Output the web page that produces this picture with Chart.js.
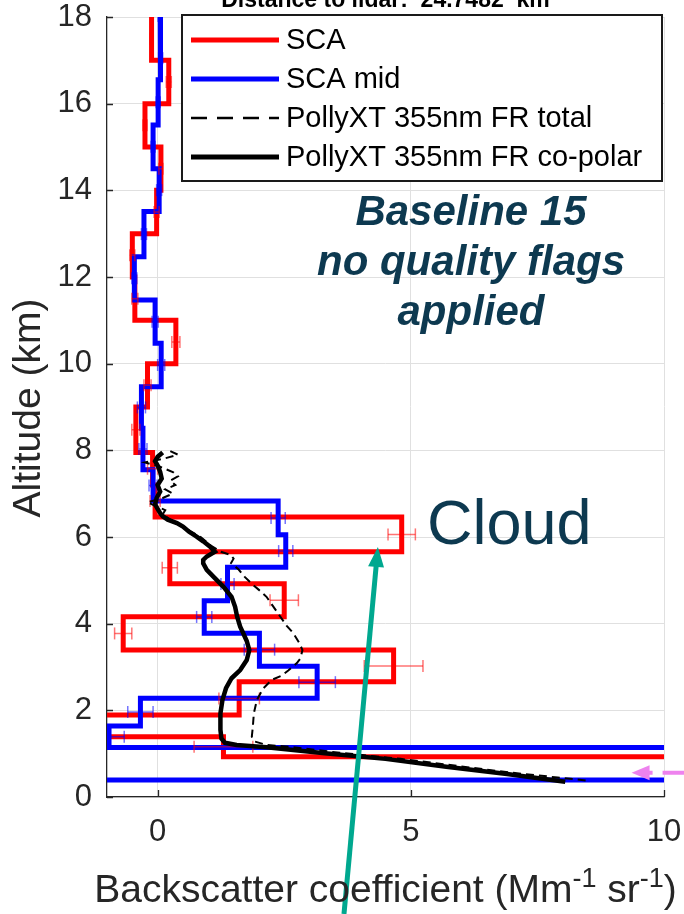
<!DOCTYPE html>
<html>
<head>
<meta charset="utf-8">
<script src="https://cdn.jsdelivr.net/npm/chart.js@4.4.1/dist/chart.umd.min.js"></script>
<style>
  html, body { margin: 0; padding: 0; background: #fff; overflow: hidden; width: 684px; height: 914px; }
  #wrap { position: absolute; left: 0; top: 0; width: 720px; height: 914px; }
  canvas { display: block; }
</style>
</head>
<body>
<div id="wrap"><canvas id="c" width="720" height="914"></canvas></div>
<script>
// ---- tick positions ----
const xTicks = [0, 5, 10];
const yTicks = [0, 2, 4, 6, 8, 10, 12, 14, 16, 18];

// ---- SCA retrieval: bin edges (km, top to bottom), backscatter and error ----
const scaEdges  = [18, 17, 16, 15, 14, 13, 12, 11, 10, 9, 7.95, 7.2, 6.46, 5.66, 4.92, 4.16, 3.39, 2.66, 1.89, 1.39, 0.93, 0.46];
const scaValues = [-0.12, 0.22, -0.25, 0.065, -0.02, -0.5, -0.45, 0.36, -0.2, -0.43, -0.1, -0.05, 4.82, 0.24, 2.5, -0.68, 4.66, 1.61, -3.0, 1.3, 20];
const scaErrors = [0.03, 0.05, 0.04, 0.04, 0.05, 0.05, 0.06, 0.08, 0.07, 0.08, 0.1, 0.1, 0.27, 0.15, 0.28, 0.17, 0.58, 0.4, 0.3, 0.58, 1];

// ---- SCA mid-bin retrieval ----
const midEdges  = [18.5, 17.55, 16.55, 15.51, 14.5, 13.51, 12.47, 11.47, 10.47, 9.47, 8.51, 7.55, 6.83, 6.05, 5.3, 4.53, 3.78, 3.02, 2.28, 1.64, 1.14, 0.39, 0];
const midValues = [0.05, 0.06, 0.01, -0.09, 0.03, -0.27, -0.46, -0.05, 0.07, -0.32, -0.29, -0.09, 2.38, 2.53, 1.38, 0.92, 2.01, 3.15, -0.34, -0.96, 20, -4];
const midErrors = [0.04, 0.04, 0.04, 0.04, 0.05, 0.05, 0.05, 0.06, 0.07, 0.08, 0.08, 0.08, 0.14, 0.14, 0.13, 0.15, 0.3, 0.36, 0.25, 0.3, 1, 1];

// ---- PollyXT 355 nm far-range total ----
const totalAlt = [7.98, 7.9, 7.8, 7.72, 7.62, 7.5, 7.4, 7.3, 7.2, 7.1, 7.0, 6.9, 6.8, 6.72, 6.62, 6.52, 6.4, 6.2, 6.0, 5.8, 5.66, 5.58, 5.5, 5.4, 5.25, 5.08, 4.93, 4.78, 4.62, 4.45, 4.2, 3.95, 3.78, 3.55, 3.39, 3.2, 3.09, 2.92, 2.8, 2.7, 2.5, 2.24, 1.93, 1.62, 1.39, 1.28, 1.2, 1.16, 1.02, 0.88, 0.72, 0.56, 0.45, 0.38];
const totalBsc = [0.25, 0.4, 0.1, -0.25, 0.05, 0.3, 0.4, 0.25, 0.35, 0.15, 0.3, 0.1, -0.2, -0.05, 0.15, 0.1, 0.25, 0.55, 0.85, 1.05, 1.25, 1.45, 1.5, 1.45, 1.6, 1.72, 1.85, 2.0, 2.15, 2.25, 2.4, 2.55, 2.68, 2.8, 2.86, 2.82, 2.75, 2.58, 2.45, 2.25, 2.08, 1.96, 1.9, 1.88, 1.86, 1.92, 2.15, 2.6, 3.6, 4.8, 5.9, 7.0, 7.9, 8.48];

// ---- PollyXT 355 nm far-range co-polar ----
const copolAlt = [7.95, 7.85, 7.75, 7.65, 7.5, 7.35, 7.2, 7.05, 6.9, 6.75, 6.65, 6.55, 6.48, 6.4, 6.32, 6.24, 6.12, 6.01, 5.9, 5.78, 5.66, 5.55, 5.47, 5.39, 5.24, 5.05, 4.85, 4.62, 4.39, 4.16, 3.93, 3.78, 3.6, 3.39, 3.16, 2.93, 2.74, 2.51, 2.24, 1.93, 1.55, 1.35, 1.25, 1.2, 1.15, 1.01, 0.88, 0.7, 0.53, 0.42, 0.35];
const copolBsc = [0.1, 0.0, -0.05, 0.0, 0.05, 0.08, 0.0, 0.05, -0.02, -0.05, 0.0, 0.05, 0.1, 0.2, 0.38, 0.5, 0.62, 0.77, 0.9, 1.03, 1.13, 0.97, 0.9, 0.9, 0.97, 1.13, 1.3, 1.46, 1.53, 1.57, 1.63, 1.69, 1.76, 1.81, 1.76, 1.63, 1.46, 1.35, 1.28, 1.24, 1.24, 1.26, 1.33, 1.56, 2.15, 3.3, 4.5, 5.7, 6.9, 7.6, 8.05];

const FONT = '"Liberation Sans", Arial, Helvetica, sans-serif';
const INK = '#262626';
const NAVY = '#0d3950';

// stair profile: each bin drawn as a vertical segment joined at its edges
function stairs(edges, values) {
  const pts = [];
  values.forEach((v, i) => {
    pts.push({ x: v, y: edges[i] });
    pts.push({ x: v, y: edges[i + 1] });
  });
  return pts;
}
// horizontal error bars at bin centres, separated by gaps
function errorBars(edges, values, errors) {
  const pts = [];
  values.forEach((v, i) => {
    const c = (edges[i] + edges[i + 1]) / 2;
    pts.push({ x: v - errors[i], y: c }, { x: v + errors[i], y: c }, { x: NaN, y: NaN });
  });
  return pts;
}
function profile(alt, bsc) {
  return alt.map((a, i) => ({ x: bsc[i], y: a }));
}

const lineBase = { showLine: true, pointRadius: 0, pointHoverRadius: 0, fill: false, tension: 0, clip: 0 };

const datasets = [
  Object.assign({}, lineBase, { label: 'SCA', data: stairs(scaEdges, scaValues),
    borderColor: '#ff0000', borderWidth: 5, order: 4, legendDash: [] }),
  Object.assign({}, lineBase, { label: 'SCA mid', data: stairs(midEdges, midValues),
    borderColor: '#0000ff', borderWidth: 5, order: 3, legendDash: [] }),
  Object.assign({}, lineBase, { label: 'PollyXT 355nm FR total', data: profile(totalAlt, totalBsc),
    borderColor: '#000000', borderWidth: 2, borderDash: [8, 5], order: 1, legendDash: [16, 10] }),
  Object.assign({}, lineBase, { label: 'PollyXT 355nm FR co-polar', data: profile(copolAlt, copolBsc),
    borderColor: '#000000', borderWidth: 4.5, order: 0, legendDash: [] }),
  Object.assign({}, lineBase, { label: 'SCA error', data: errorBars(scaEdges, scaValues, scaErrors),
    borderColor: 'rgba(255,0,0,0.55)', borderWidth: 1.5, order: 2, spanGaps: false,
    pointRadius: 6, pointStyle: 'line', rotation: 90, pointBorderColor: 'rgba(255,0,0,0.55)', pointBorderWidth: 1.5 }),
  Object.assign({}, lineBase, { label: 'SCA mid error', data: errorBars(midEdges, midValues, midErrors),
    borderColor: 'rgba(0,0,255,0.55)', borderWidth: 1.5, order: 2, spanGaps: false,
    pointRadius: 6, pointStyle: 'line', rotation: 90, pointBorderColor: 'rgba(0,0,255,0.55)', pointBorderWidth: 1.5 })
];
const legendCount = 4;

// annotation anchors in data units
const cloudArrow = { tail: { x: 3.68, y: -2.7 }, tip: { x: 4.35, y: 5.77 } };
const groundArrow = { tip: { x: 9.36, y: 0.56 } };

function arrowHead(ctx, tx, ty, ux, uy, len, half, color) {
  const bx = tx - ux * len, by = ty - uy * len;
  ctx.beginPath();
  ctx.moveTo(tx, ty);
  ctx.lineTo(bx - uy * half, by + ux * half);
  ctx.lineTo(bx + uy * half, by - ux * half);
  ctx.closePath();
  ctx.fillStyle = color;
  ctx.fill();
}

const decor = {
  id: 'decor',
  afterDatasetsDraw(chart) {
    const ctx = chart.ctx;
    const xs = chart.scales.x, ys = chart.scales.y;
    const a = chart.chartArea;
    ctx.save();
    // inward tick marks
    ctx.strokeStyle = INK;
    ctx.lineWidth = 1.3;
    ctx.beginPath();
    yTicks.forEach(v => {
      const p = Math.round(ys.getPixelForValue(v)) + 0.5;
      ctx.moveTo(a.left, p); ctx.lineTo(a.left + 6, p);
    });
    xTicks.forEach(v => {
      const p = Math.round(xs.getPixelForValue(v)) + 0.5;
      ctx.moveTo(p, a.bottom); ctx.lineTo(p, a.bottom - 7);
    });
    ctx.stroke();

    // legend box
    const L = 182, T = 15, R = 662, B = 181;
    ctx.fillStyle = '#ffffff';
    ctx.fillRect(L, T, R - L, B - T);
    ctx.strokeStyle = '#1a1a1a';
    ctx.lineWidth = 2;
    ctx.strokeRect(L, T, R - L, B - T);
    const rows = [40, 79, 118, 157];
    ctx.font = '29px ' + FONT;
    ctx.textBaseline = 'middle';
    ctx.textAlign = 'left';
    for (let i = 0; i < legendCount; i++) {
      const ds = chart.data.datasets[i];
      ctx.beginPath();
      ctx.setLineDash(ds.legendDash || []);
      ctx.strokeStyle = ds.borderColor;
      ctx.lineWidth = ds.borderWidth === 2 ? 2.5 : 5;
      ctx.moveTo(191, rows[i]); ctx.lineTo(279, rows[i]);
      ctx.stroke();
      ctx.setLineDash([]);
      ctx.fillStyle = '#000000';
      ctx.fillText(ds.label, 286, rows[i] + 1);
    }

    // plot annotations
    ctx.fillStyle = NAVY;
    ctx.textAlign = 'center';
    ctx.textBaseline = 'alphabetic';
    ctx.font = 'italic bold 42px ' + FONT;
    ctx.fillText('Baseline 15', 471, 225);
    ctx.fillText('no quality flags', 471, 275);
    ctx.fillText('applied', 471, 325);
    ctx.textAlign = 'left';
    ctx.font = '63px ' + FONT;
    ctx.fillText('Cloud', 427, 544);

    // arrow pointing at the cloud layer
    const tx = xs.getPixelForValue(cloudArrow.tip.x), ty = ys.getPixelForValue(cloudArrow.tip.y);
    const sx = xs.getPixelForValue(cloudArrow.tail.x), sy = ys.getPixelForValue(cloudArrow.tail.y);
    const d = Math.hypot(tx - sx, ty - sy), ux = (tx - sx) / d, uy = (ty - sy) / d;
    ctx.strokeStyle = '#00a88f';
    ctx.lineWidth = 5;
    ctx.beginPath();
    ctx.moveTo(sx, sy); ctx.lineTo(tx - ux * 16, ty - uy * 16);
    ctx.stroke();
    arrowHead(ctx, tx, ty, ux, uy, 20, 8, '#00a88f');

    // dashed arrow at the ground layer
    const gx = xs.getPixelForValue(groundArrow.tip.x), gy = ys.getPixelForValue(groundArrow.tip.y);
    ctx.strokeStyle = '#ee82ee';
    ctx.lineWidth = 4;
    ctx.beginPath();
    ctx.moveTo(gx + 14, gy); ctx.lineTo(gx + 21, gy);
    ctx.moveTo(gx + 31, gy); ctx.lineTo(gx + 60, gy);
    ctx.stroke();
    arrowHead(ctx, gx, gy, -1, 0, 18, 7.5, '#ee82ee');
    ctx.restore();
  },
  afterDraw(chart) {
    const ctx = chart.ctx;
    const a = chart.chartArea;
    ctx.save();
    ctx.fillStyle = '#000000';
    // title, partly above the page edge
    ctx.font = 'bold 23px ' + FONT;
    ctx.textAlign = 'center';
    ctx.textBaseline = 'alphabetic';
    ctx.fillText('Distance to lidar:  24.7482  km', (a.left + a.right) / 2, 7);

    // y-axis title
    ctx.fillStyle = INK;
    ctx.font = '39px ' + FONT;
    ctx.translate(40, 408);
    ctx.rotate(-Math.PI / 2);
    ctx.fillText('Altitude (km)', 0, 0);
    ctx.setTransform(1, 0, 0, 1, 0, 0);

    // x-axis title with superscripts
    const parts = [
      ['Backscatter coefficient (Mm', false], ['-1', true], [' sr', false], ['-1', true], [')', false]
    ];
    const mainFont = '39px ' + FONT, supFont = '27px ' + FONT;
    let w = 0;
    parts.forEach(p => { ctx.font = p[1] ? supFont : mainFont; w += ctx.measureText(p[0]).width; });
    let x = (a.left + a.right) / 2 - w / 2;
    const base = 902;
    ctx.textAlign = 'left';
    parts.forEach(p => {
      ctx.font = p[1] ? supFont : mainFont;
      ctx.fillText(p[0], x, p[1] ? base - 15 : base);
      x += ctx.measureText(p[0]).width;
    });
    ctx.restore();
  }
};

const tickFont = { family: FONT, size: 31, lineHeight: 1 };

new Chart(document.getElementById('c'), {
  type: 'scatter',
  data: { datasets },
  options: {
    responsive: false,
    animation: false,
    events: [],
    layout: { padding: { left: 0, top: 17, right: 56, bottom: 0 } },
    plugins: { legend: { display: false }, tooltip: { enabled: false }, title: { display: false } },
    scales: {
      x: {
        type: 'linear', position: 'bottom', min: -1, max: 10,
        afterBuildTicks: s => { s.ticks = xTicks.map(v => ({ value: v })); },
        afterFit: s => { s.height = 117; s.paddingLeft = 0; s.paddingRight = 0; },
        grid: { color: '#e0e0e0', lineWidth: 1, drawTicks: false },
        border: { display: true, color: INK, width: 1.3 },
        ticks: { font: tickFont, color: INK, padding: 20, maxRotation: 0, autoSkip: false }
      },
      y: {
        type: 'linear', position: 'left', min: 0, max: 18,
        afterBuildTicks: s => { s.ticks = yTicks.map(v => ({ value: v })); },
        afterFit: s => { s.width = 107; s.paddingTop = 0; s.paddingBottom = 0; },
        grid: { color: '#e0e0e0', lineWidth: 1, drawTicks: false },
        border: { display: true, color: INK, width: 1.3 },
        ticks: { font: tickFont, color: INK, padding: 15, autoSkip: false }
      }
    }
  },
  plugins: [decor]
});
</script>
</body>
</html>
